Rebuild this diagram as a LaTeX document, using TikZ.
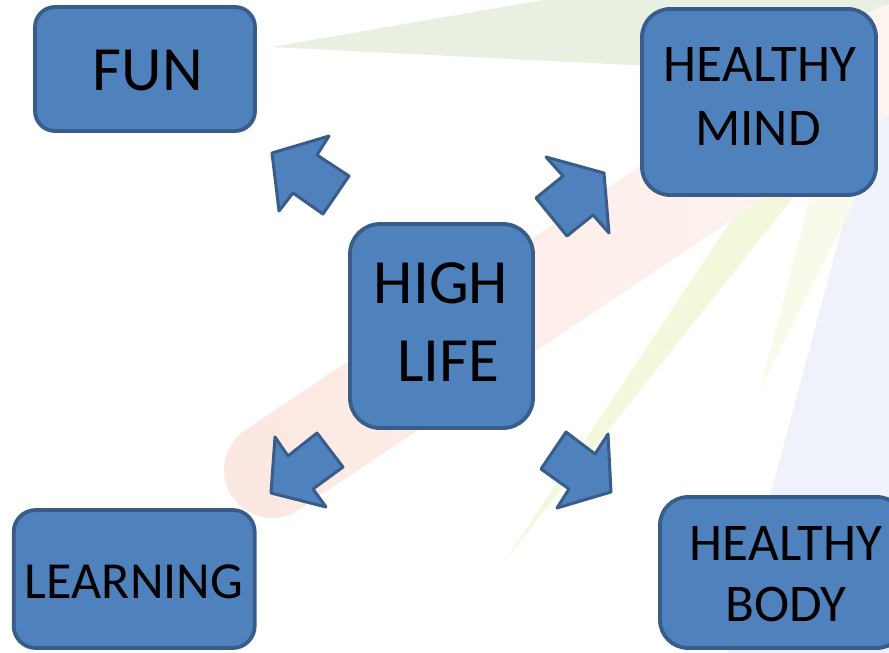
\documentclass[tikz,border=0pt]{standalone}
\usepackage{fontspec}
\setmainfont{Carlito}
\definecolor{boxfill}{HTML}{4F81BD}
\definecolor{boxline}{HTML}{385D8A}
\definecolor{raygreen}{HTML}{E8F1E1}
\definecolor{raypink}{HTML}{FCE7E1}
\definecolor{raypinkfar}{HTML}{FEF6F3}
\definecolor{rayyellow}{HTML}{F3F8DD}
\definecolor{raypale}{HTML}{F8FAEA}
\definecolor{raylav}{HTML}{EFF2FA}
\begin{document}
\begin{tikzpicture}[x=1pt,y=-1pt,
  boxshape/.style={draw=boxline, fill=boxfill, line width=3.8pt, rectangle, inner sep=0pt},
  blockarrow/.style={draw=boxline, fill=boxfill, line width=3pt, line join=round},
  txt/.style={anchor=base, inner sep=0pt, text=black}]
\useasboundingbox (0,0) rectangle (889,653);
\clip (0,0) rectangle (889,653);
% background rays
\fill[raygreen] (272,47) -- (889,-60) -- (889,78) -- cycle;
\fill[raylav] (728,653) -- (903,0) -- (889,0) -- (889,653) -- cycle;
\fill[raypale] (760,390) -- (812,190) -- (860,190) -- cycle;
\fill[rayyellow] (507,558) -- (748,195) -- (795,195) -- cycle;
\begin{scope}[shift={(272,470)}, rotate=33.8]
  \shade[left color=raypink, right color=raypinkfar, rounded corners=48pt] (-48,-48) rectangle (800,48);
\end{scope}
% boxes
\node[boxshape, rounded corners=20pt, minimum width=220pt, minimum height=124pt] (fun) at (145,69) {};
\node[boxshape, rounded corners=28pt, minimum width=234pt, minimum height=186pt] (mind) at (759,102) {};
\node[boxshape, rounded corners=30pt, minimum width=183pt, minimum height=204pt] (high) at (441.5,326) {};
\node[boxshape, rounded corners=22pt, minimum width=241pt, minimum height=138pt] (learn) at (134.2,579) {};
\node[boxshape, rounded corners=28pt, minimum width=245pt, minimum height=151pt] (body) at (782.5,572.5) {};
% texts
\node[txt, font=\fontsize{63}{70}\selectfont] (tfun) at (148,90) {FUN};
\node[txt, font=\fontsize{53}{60}\selectfont] (tm1) at (760,81.7) {HEALTHY};
\node[txt, font=\fontsize{53}{60}\selectfont] (tm2) at (758,145) {MIND};
\node[txt, font=\fontsize{63}{70}\selectfont] (th1) at (441,303) {HIGH};
\node[txt, font=\fontsize{63}{70}\selectfont] (th2) at (448.5,381) {LIFE};
\node[txt, font=\fontsize{52}{60}\selectfont] (tl) at (134,598.3) {LEARNING};
\node[txt, font=\fontsize{53}{60}\selectfont] (tb1) at (786,560) {HEALTHY};
\node[txt, font=\fontsize{53}{60}\selectfont] (tb2) at (786,621.7) {BODY};
% block arrows
\draw[blockarrow] (272,153) -- (329,136) -- (317,155) -- (349,176) -- (323,214) -- (293,193) -- (279,211) -- cycle;
\draw[blockarrow] (546,157) -- (563,176) -- (536,198) -- (567,236) -- (593,215) -- (609,233) -- (604,173) -- cycle;
\draw[blockarrow] (271,493) -- (275,437) -- (288,456) -- (317,433) -- (343,467) -- (313,489) -- (326,507) -- cycle;
\draw[blockarrow] (608,434) -- (595,454) -- (566,432) -- (541,469) -- (569,489) -- (557,508) -- (611,492) -- cycle;
\end{tikzpicture}
\end{document}
